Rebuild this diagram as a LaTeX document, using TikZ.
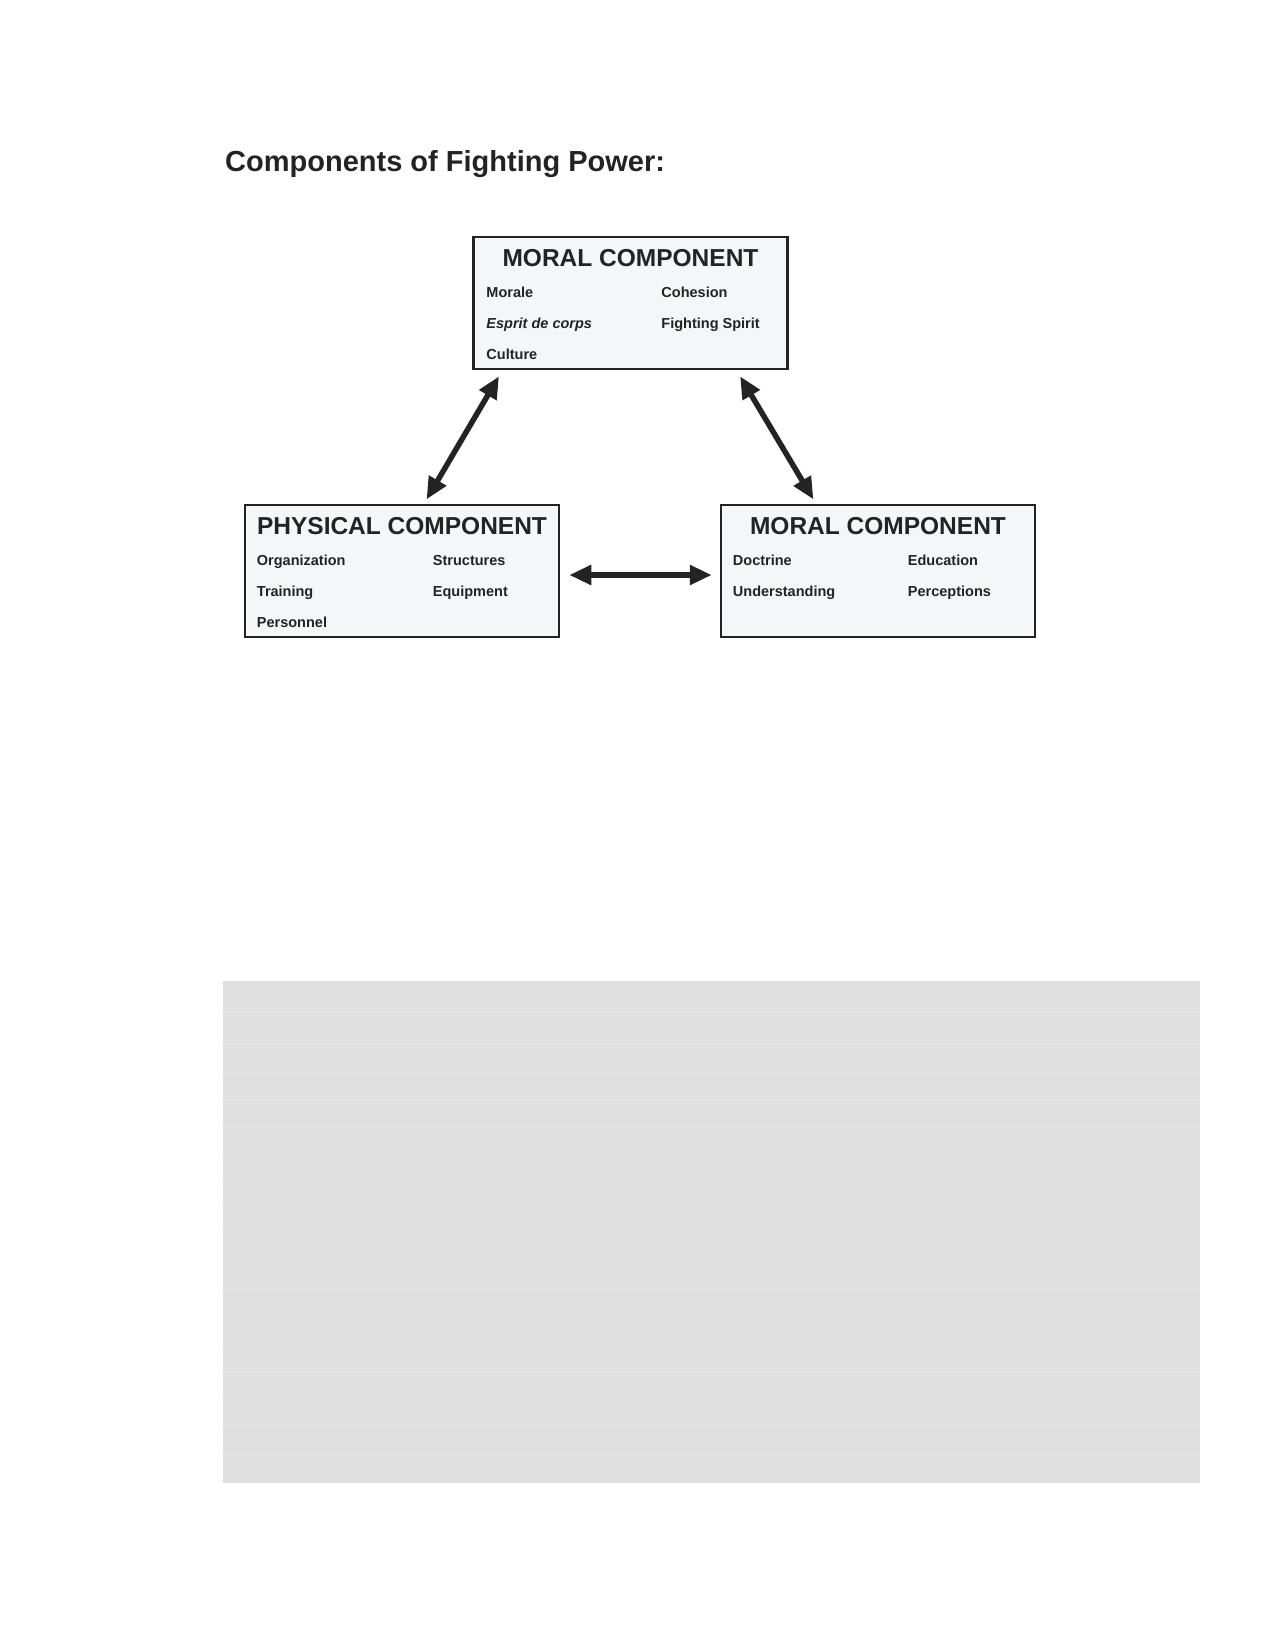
\documentclass[tikz,border=0pt]{standalone}
\usepackage{fontspec}
\setmainfont{Liberation Sans}
\usetikzlibrary{arrows.meta}
\definecolor{ink}{RGB}{35,35,35}
\definecolor{boxfill}{RGB}{245,246,248}
\definecolor{panel}{RGB}{224,224,224}
\definecolor{panelline}{RGB}{229,229,229}

\begin{document}
\begin{tikzpicture}[x=1pt,y=-1pt,
    compbox/.style={draw=ink,line width=2.5pt,fill=boxfill,minimum width=314pt,minimum height=132pt,inner sep=0pt},
    head/.style={anchor=base,inner sep=0pt,text=ink,font=\fontsize{24.5}{28}\selectfont\bfseries},
    item/.style={anchor=base west,inner sep=0pt,text=ink,font=\fontsize{14.5}{17}\selectfont\bfseries},
    link/.style={{Triangle[length=22pt,width=19pt]}-{Triangle[length=22pt,width=19pt]},line width=5.5pt,draw=ink}]
        \useasboundingbox(0,0)rectangle(1275,1650);

        \node[anchor=base west,inner sep=0pt,text=ink,font=\fontsize{29}{34}\selectfont\bfseries](title)at(225,171){Components of Fighting Power:};

        % top box
        \node[compbox](moraltop)at(630.5,303){};
        \node[head]at([yshift=-31pt]moraltop.north){MORAL COMPONENT};
        \node[item](morale)at([xshift=14pt,yshift=-62pt]moraltop.north west){Morale};
        \node[item](esprit)at([xshift=14pt,yshift=-93pt]moraltop.north west){\itshape Esprit de corps};
        \node[item](culture)at([xshift=14pt,yshift=-124pt]moraltop.north west){Culture};
        \node[item](cohesion)at([xshift=189pt,yshift=-62pt]moraltop.north west){Cohesion};
        \node[item](spirit)at([xshift=189pt,yshift=-93pt]moraltop.north west){Fighting Spirit};

        % left box
        \node[compbox](physical)at(402,571){};
        \node[head]at([yshift=-31pt]physical.north){PHYSICAL COMPONENT};
        \node[item](organization)at([xshift=13pt,yshift=-62pt]physical.north west){Organization};
        \node[item](training)at([xshift=13pt,yshift=-93pt]physical.north west){Training};
        \node[item](personnel)at([xshift=13pt,yshift=-124pt]physical.north west){Personnel};
        \node[item](structures)at([xshift=189pt,yshift=-62pt]physical.north west){Structures};
        \node[item](equipment)at([xshift=189pt,yshift=-93pt]physical.north west){Equipment};

        % right box
        \node[compbox](moralright)at(878,571){};
        \node[head]at([yshift=-31pt]moralright.north){MORAL COMPONENT};
        \node[item](doctrine)at([xshift=13pt,yshift=-62pt]moralright.north west){Doctrine};
        \node[item](understanding)at([xshift=13pt,yshift=-93pt]moralright.north west){Understanding};
        \node[item](education)at([xshift=188pt,yshift=-62pt]moralright.north west){Education};
        \node[item](perceptions)at([xshift=188pt,yshift=-93pt]moralright.north west){Perceptions};

        \draw[link,shorten <=5pt,shorten >=7pt]([xshift=22pt]physical.north)--([xshift=-128pt]moraltop.south);
        \draw[link,shorten <=5pt,shorten >=7pt]([xshift=-62pt]moralright.north)--([xshift=106pt]moraltop.south);
        \draw[link,shorten <=9pt,shorten >=8pt]([yshift=-4pt]physical.east)--([yshift=-4pt]moralright.west);

        % grey panel
        \fill[panel](223,981)rectangle(1200,1483);
        \foreach \y in {1012,1043,1073,1099,1126,1152,1178,1205,1231,1289,1344,1371,1399,1425,1454}
            \draw[panelline,line width=1pt](223,\y)--(1200,\y);
\end{tikzpicture}
\end{document}
